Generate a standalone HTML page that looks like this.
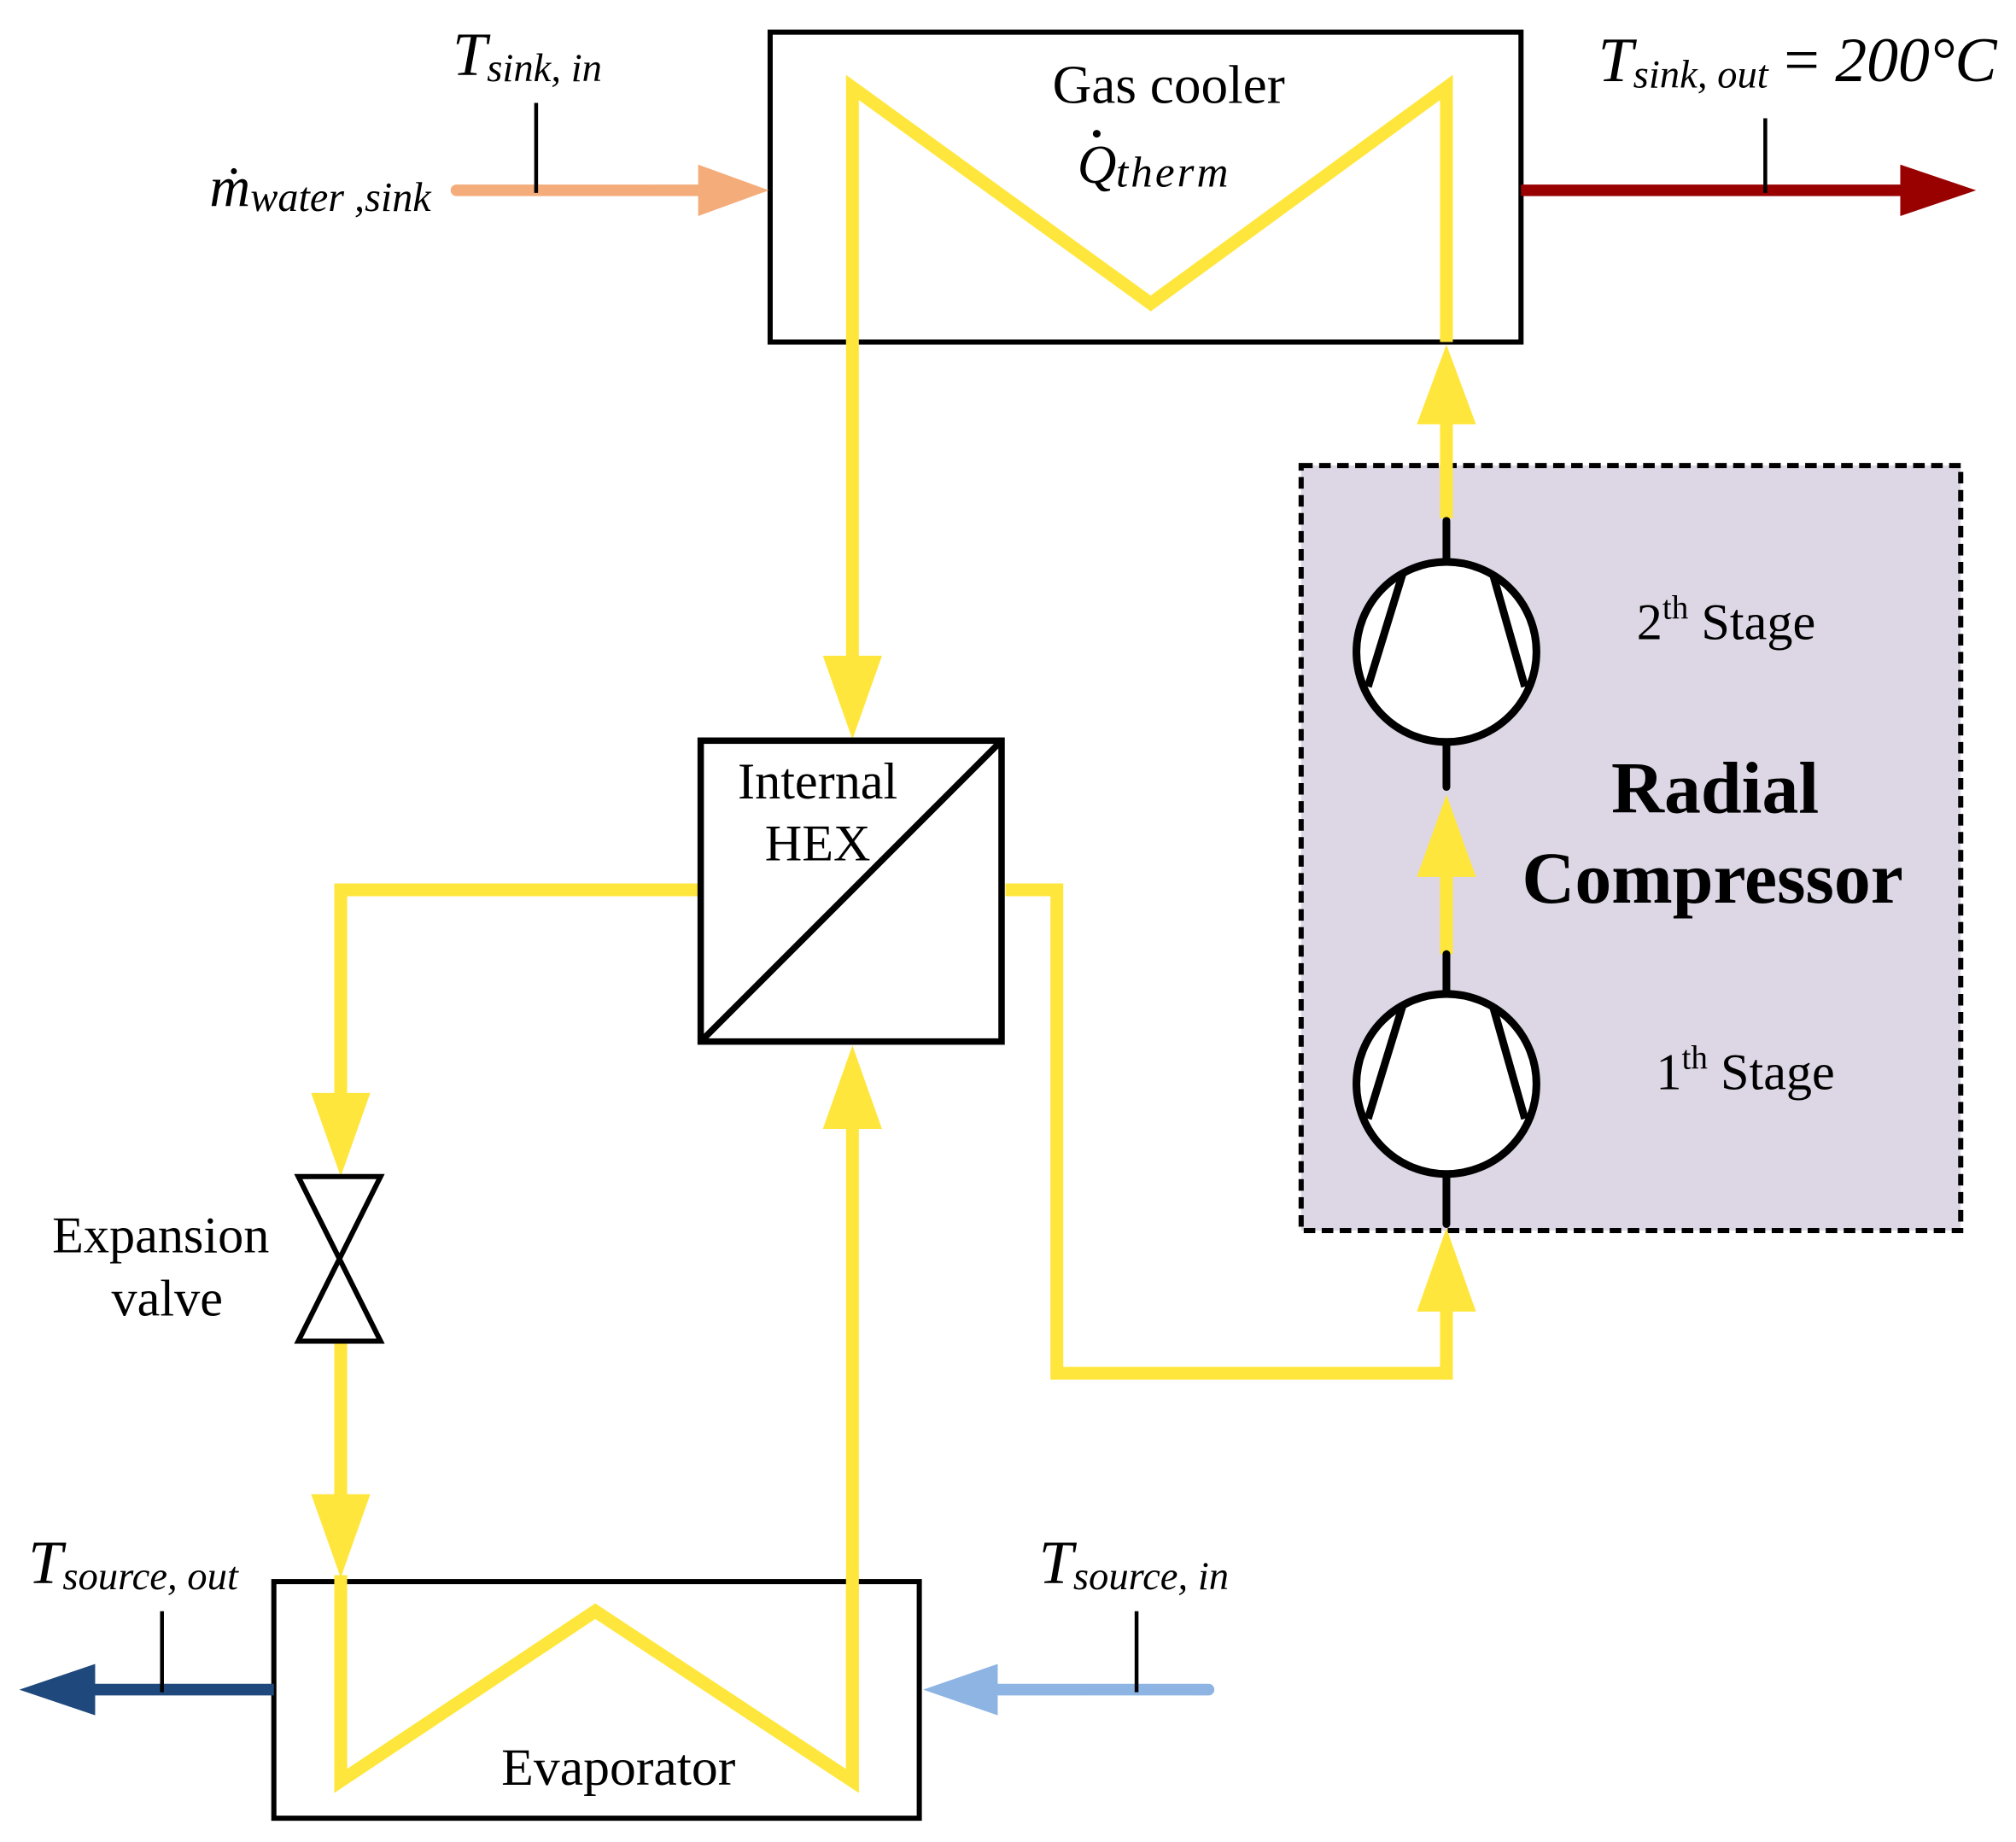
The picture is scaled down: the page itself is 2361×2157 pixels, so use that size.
<!DOCTYPE html>
<html><head><meta charset="utf-8"><style>
html,body{margin:0;padding:0;background:#fff;}
svg{display:block}
text{font-family:"Liberation Serif",serif;fill:#000}
</style></head><body>
<svg width="2361" height="2157" viewBox="0 0 1568 1432.5" preserveAspectRatio="none" xmlns="http://www.w3.org/2000/svg">
<defs>
<g id="comp">
<circle cx="0" cy="0" r="70" fill="#fff" stroke="#000" stroke-width="6"/>
<line x1="-34" y1="-61" x2="-61" y2="27" stroke="#000" stroke-width="6"/>
<line x1="36" y1="-61" x2="61" y2="27" stroke="#000" stroke-width="6"/>
</g>
</defs>
<rect x="1012" y="362" width="513" height="595" fill="#DDD7E5" stroke="#000" stroke-width="4" stroke-dasharray="9,5"/>

<rect x="599" y="25" width="584" height="241" fill="#fff" stroke="#000" stroke-width="4"/>
<polyline points="663,266 663,68 895,236 1125,68 1125,266" fill="none" stroke="#FFE63C" stroke-width="10"/>
<text x="909" y="80" font-size="42" text-anchor="middle">Gas cooler</text>
<text x="838" y="142" font-size="42" font-style="italic">Q</text>
<circle cx="853" cy="104" r="3" fill="#000"/>
<text x="868" y="145" font-size="34" font-style="italic" letter-spacing="2">therm</text>

<g stroke="#FFE63C" stroke-width="10" fill="none">
<line x1="663" y1="266" x2="663" y2="512"/>
<polyline points="548,692 265,692 265,852"/>
<line x1="265" y1="1043" x2="265" y2="1164"/>
<polyline points="265,1225 265,1385 463,1253 663,1385 663,876"/>
<polyline points="782,692 822,692 822,1068 1125,1068 1125,1018"/>
<line x1="1125" y1="403" x2="1125" y2="328"/>
<line x1="1125" y1="742" x2="1125" y2="678"/>
</g>
<g fill="#FFE63C">
<polygon points="640,510 686,510 663,575"/>
<polygon points="242,850 288,850 265,915"/>
<polygon points="242,1162 288,1162 265,1227"/>
<polygon points="640,878 686,878 663,813"/>
<polygon points="1102,1020 1148,1020 1125,955"/>
<polygon points="1102,330 1148,330 1125,268"/>
<polygon points="1102,682 1148,682 1125,618"/>
</g>

<rect x="545" y="576" width="234" height="234" fill="#fff" stroke="#000" stroke-width="5"/>
<line x1="545" y1="810" x2="779" y2="576" stroke="#000" stroke-width="5"/>
<text x="636" y="621" font-size="40" text-anchor="middle">Internal</text>
<text x="636" y="669" font-size="40" text-anchor="middle">HEX</text>

<polygon points="232,915 296,915 264,979 232,1043 296,1043 264,979" fill="#fff" stroke="#000" stroke-width="4"/>
<text x="125" y="974" font-size="40" text-anchor="middle">Expansion</text>
<text x="130" y="1023" font-size="40" text-anchor="middle">valve</text>

<rect x="213" y="1230" width="502" height="184" fill="none" stroke="#000" stroke-width="4"/>
<polyline points="265,1225 265,1385 463,1253 663,1385 663,1225" fill="none" stroke="#FFE63C" stroke-width="10"/>
<text x="481" y="1388" font-size="41" text-anchor="middle">Evaporator</text>

<g stroke="#000" stroke-width="6" stroke-linecap="round">
<line x1="1125" y1="405" x2="1125" y2="440"/>
<line x1="1125" y1="576" x2="1125" y2="612"/>
<line x1="1125" y1="742" x2="1125" y2="776"/>
<line x1="1125" y1="912" x2="1125" y2="952"/>
</g>
<use href="#comp" x="1125" y="507"/>
<use href="#comp" x="1125" y="843"/>
<text x="1273" y="497" font-size="40">2<tspan font-size="26" dy="-16">th</tspan><tspan dy="16"> Stage</tspan></text>
<text x="1288" y="847" font-size="40">1<tspan font-size="26" dy="-16">th</tspan><tspan dy="16"> Stage</tspan></text>
<text x="1334" y="632" font-size="57" font-weight="bold" text-anchor="middle">Radial</text>
<text x="1332" y="702" font-size="57" font-weight="bold" text-anchor="middle">Compressor</text>

<line x1="355" y1="148" x2="548" y2="148" stroke="#F4AC7A" stroke-width="9" stroke-linecap="round"/>
<polygon points="543,128 543,168 598,148" fill="#F4AC7A"/>
<line x1="417" y1="80" x2="417" y2="150" stroke="#000" stroke-width="3"/>
<text x="352" y="58" font-size="48" font-style="italic">T<tspan font-size="31" dy="5">sink, in</tspan></text>
<text x="163" y="160" font-size="44" font-style="italic">ṁ<tspan font-size="32" dy="4">water ,sink</tspan></text>

<line x1="1183" y1="148" x2="1484" y2="148" stroke="#990000" stroke-width="9"/>
<polygon points="1478,128 1478,168 1537,148" fill="#990000"/>
<line x1="1373" y1="92" x2="1373" y2="150" stroke="#000" stroke-width="3"/>
<text x="1243" y="63" font-size="49" font-style="italic">T<tspan font-size="31" dy="5">sink, out</tspan><tspan font-size="49" dy="-5" font-style="normal"> = </tspan><tspan font-size="49">200°C</tspan></text>

<line x1="213" y1="1314" x2="68" y2="1314" stroke="#1F497D" stroke-width="9"/>
<polygon points="74,1294 74,1334 15,1314" fill="#1F497D"/>
<line x1="126" y1="1253" x2="126" y2="1316" stroke="#000" stroke-width="3"/>
<text x="22" y="1231" font-size="48" font-style="italic">T<tspan font-size="31" dy="5">source, out</tspan></text>

<line x1="940" y1="1314" x2="772" y2="1314" stroke="#8EB4E3" stroke-width="9" stroke-linecap="round"/>
<polygon points="776,1294 776,1334 718,1314" fill="#8EB4E3"/>
<line x1="884" y1="1253" x2="884" y2="1316" stroke="#000" stroke-width="3"/>
<text x="808" y="1231" font-size="48" font-style="italic">T<tspan font-size="31" dy="5">source, in</tspan></text>
</svg>
</body></html>
